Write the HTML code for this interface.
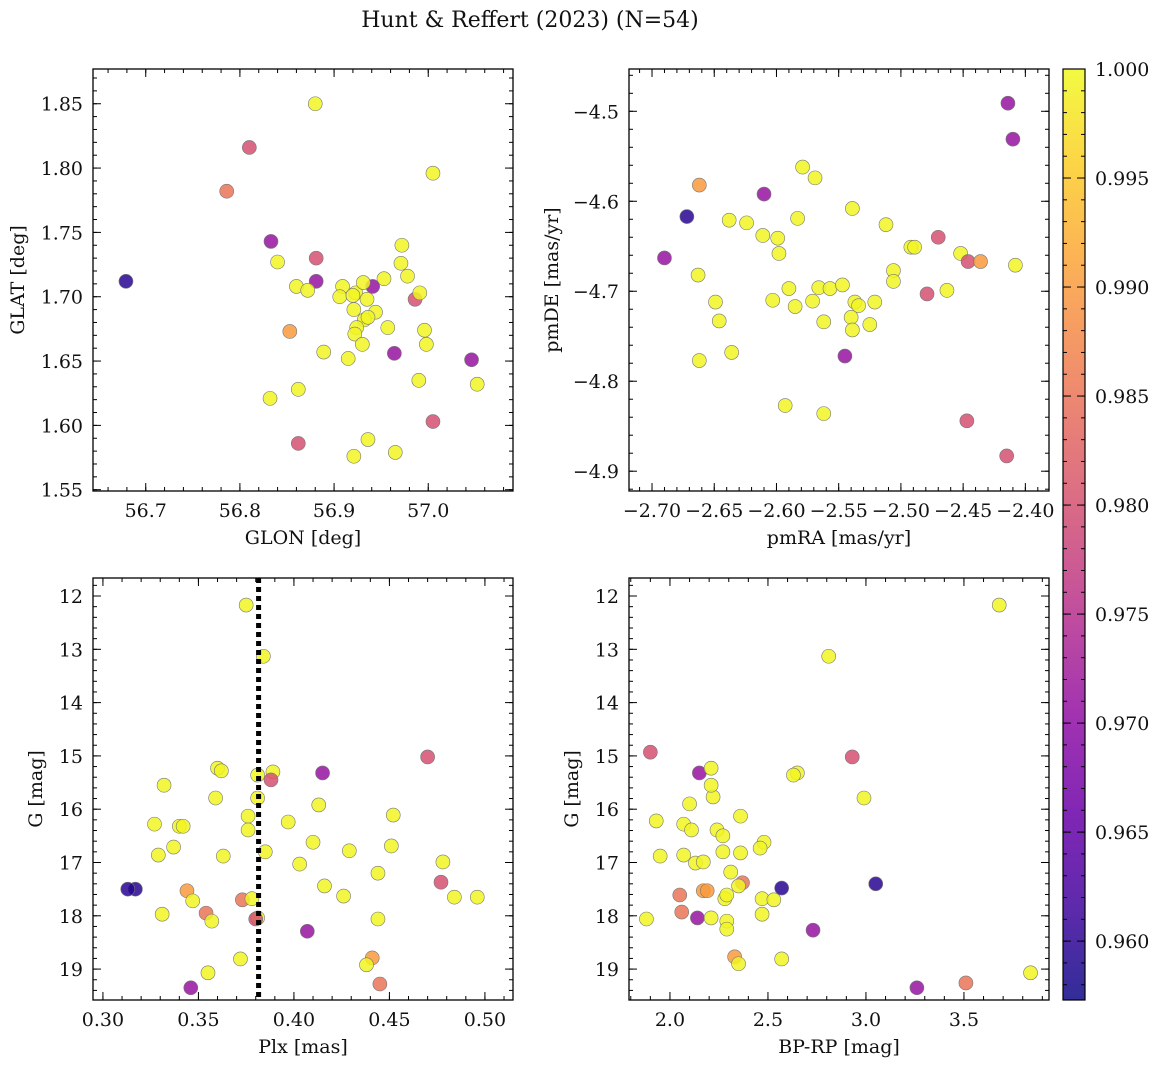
<!DOCTYPE html>
<html><head><meta charset="utf-8">
<style>
body{margin:0;background:#fff;}
svg text{font-family:"DejaVu Serif","Liberation Serif",serif;fill:#111;}
</style></head>
<body>
<svg id="chart" width="1161" height="1068" viewBox="0 0 1161 1068" xmlns="http://www.w3.org/2000/svg">
<text x="530" y="27" font-size="22" text-anchor="middle">Hunt &amp; Reffert (2023) (N=54)</text>
</svg>
<script>
// probability classes
const Y=0.9995, PK=0.980, SA=0.985, OR=0.990, PU=0.971, DB=0.9595;
// Panel 1: GLON / GLAT
const glon=[56.88,56.81,56.786,57.005,56.679,56.833,56.84,56.881,56.881,56.86,56.872,56.909,56.923,56.953,56.972,56.971,56.978,56.941,56.931,56.906,56.92,56.935,56.944,56.921,56.932,56.924,56.922,56.957,56.93,56.915,56.889,56.853,56.964,56.986,56.991,56.996,56.998,57.046,57.052,56.99,56.862,56.832,56.862,56.936,56.921,56.965,57.005,56.936];
const glat=[1.85,1.816,1.782,1.796,1.712,1.743,1.727,1.730,1.712,1.708,1.705,1.708,1.703,1.714,1.740,1.726,1.716,1.708,1.711,1.700,1.701,1.698,1.688,1.690,1.682,1.676,1.671,1.676,1.663,1.652,1.657,1.673,1.656,1.698,1.703,1.674,1.663,1.651,1.632,1.635,1.628,1.621,1.586,1.589,1.576,1.579,1.603,1.684];
const prob1=[Y,PK,SA,Y,DB,PU,Y,PK,PU,Y,Y,Y,Y,Y,Y,Y,Y,PU,Y,Y,Y,Y,Y,Y,Y,Y,Y,Y,Y,Y,Y,OR,PU,PK,Y,Y,Y,PU,Y,Y,Y,Y,PK,Y,Y,Y,PK,Y];
// Panel 2: pmRA / pmDE
const pmra=[-2.414,-2.410,-2.579,-2.569,-2.662,-2.610,-2.672,-2.539,-2.638,-2.624,-2.583,-2.512,-2.611,-2.599,-2.690,-2.470,-2.452,-2.492,-2.489,-2.446,-2.436,-2.408,-2.663,-2.598,-2.506,-2.506,-2.566,-2.557,-2.547,-2.590,-2.463,-2.479,-2.521,-2.537,-2.534,-2.649,-2.603,-2.585,-2.571,-2.540,-2.525,-2.646,-2.562,-2.539,-2.636,-2.662,-2.545,-2.593,-2.562,-2.447,-2.415];
const pmde=[-4.491,-4.531,-4.562,-4.574,-4.582,-4.592,-4.617,-4.608,-4.621,-4.624,-4.619,-4.626,-4.638,-4.641,-4.663,-4.640,-4.658,-4.651,-4.651,-4.667,-4.667,-4.671,-4.682,-4.658,-4.677,-4.689,-4.696,-4.697,-4.693,-4.697,-4.699,-4.703,-4.712,-4.712,-4.716,-4.712,-4.710,-4.717,-4.711,-4.729,-4.737,-4.733,-4.734,-4.743,-4.768,-4.777,-4.772,-4.827,-4.836,-4.844,-4.883];
const prob2=[PU,PU,Y,Y,OR,PU,DB,Y,Y,Y,Y,Y,Y,Y,PU,PK,Y,Y,Y,PK,OR,Y,Y,Y,Y,Y,Y,Y,Y,Y,Y,PK,Y,Y,Y,Y,Y,Y,Y,Y,Y,Y,Y,Y,Y,Y,PU,Y,Y,PK,PK];
// Panel 3: Plx / G
const plx=[0.375,0.384,0.332,0.360,0.362,0.381,0.389,0.415,0.470,0.388,0.359,0.381,0.413,0.327,0.340,0.342,0.376,0.452,0.397,0.376,0.410,0.451,0.337,0.385,0.429,0.329,0.363,0.403,0.478,0.444,0.416,0.477,0.317,0.313,0.344,0.347,0.426,0.484,0.373,0.378,0.354,0.331,0.357,0.381,0.444,0.496,0.407,0.372,0.355,0.441,0.438,0.445,0.346,0.380];
const gmag3=[12.17,13.13,15.55,15.23,15.28,15.36,15.30,15.32,15.02,15.45,15.79,15.79,15.92,16.28,16.32,16.32,16.13,16.11,16.24,16.39,16.62,16.69,16.71,16.80,16.78,16.86,16.88,17.03,16.99,17.20,17.44,17.37,17.50,17.50,17.53,17.72,17.63,17.65,17.70,17.68,17.95,17.97,18.10,18.04,18.06,17.65,18.29,18.81,19.07,18.79,18.92,19.28,19.35,18.06];
const prob3=[Y,Y,Y,Y,Y,Y,Y,PU,PK,PK,Y,Y,Y,Y,Y,Y,Y,Y,Y,Y,Y,Y,Y,Y,Y,Y,Y,Y,Y,Y,Y,PK,DB,DB,OR,Y,Y,Y,SA,Y,SA,Y,Y,Y,Y,Y,PU,Y,Y,OR,Y,SA,PU,PK];
// Panel 4: BP-RP / G
const bprp=[3.68,2.81,1.90,2.93,2.15,2.21,2.22,2.21,2.99,2.10,2.07,2.11,2.07,1.95,1.93,2.24,2.27,2.36,2.48,2.65,2.63,2.46,2.36,2.27,2.13,2.17,2.31,2.37,2.35,2.17,2.05,2.19,1.88,2.06,2.14,2.21,2.29,2.29,2.47,2.53,2.47,2.57,3.05,2.73,2.57,2.33,2.35,3.26,3.51,3.84,2.28,2.29];
const gmag4=[12.17,13.13,14.93,15.02,15.32,15.23,15.77,15.55,15.79,15.90,16.28,16.39,16.86,16.88,16.22,16.39,16.50,16.13,16.62,15.32,15.36,16.73,16.82,16.80,17.01,16.99,17.18,17.38,17.44,17.53,17.61,17.53,18.06,17.93,18.04,18.04,18.10,18.25,17.68,17.70,17.97,17.48,17.40,18.27,18.81,18.77,18.90,19.35,19.26,19.07,17.68,17.61];
const prob4=[Y,Y,PK,PK,PU,Y,Y,Y,Y,Y,Y,Y,Y,Y,Y,Y,Y,Y,Y,Y,Y,Y,Y,Y,Y,Y,Y,SA,Y,OR,SA,OR,Y,SA,PU,Y,Y,Y,Y,Y,Y,DB,DB,PU,Y,OR,Y,PU,SA,Y,Y,Y];
// reference line
const plxRef=[0.3815];
// colorbar
const cbMin=0.9573, cbMax=1.0;
const cbTicks=[0.960,0.965,0.970,0.975,0.980,0.985,0.990,0.995,1.000];

const NS="http://www.w3.org/2000/svg";
const svg=document.getElementById('chart');
function mk(tag,attrs,parent){const e=document.createElementNS(NS,tag);for(const k in attrs)e.setAttribute(k,attrs[k]);(parent||svg).appendChild(e);return e;}
const stops=["#0d0887","#41049d","#6a00a8","#8f0da4","#b12a90","#cc4778","#e16462","#f2844b","#fca636","#fcce25","#f0f921"];
function hex(h){return [1,3,5].map(i=>parseInt(h.substr(i,2),16));}
function plasma(t){t=Math.max(0,Math.min(1,t));const f=t*10,i=Math.min(9,Math.floor(f)),r=f-i;const a=hex(stops[i]),b=hex(stops[i+1]);return 'rgb('+a.map((v,k)=>Math.round(v+(b[k]-v)*r)).join(',')+')';}
function cmap(p){return plasma((p-cbMin)/(cbMax-cbMin));}
const minus=s=>s.replace('-','\u2212');
const FS=19;

const panels=[
 {name:'glon-glat',L:93,R:513,T:69,B:491,xa:56.644,xb:57.090,yt:1.877,yb:1.549,xmaj:0.1,xmin:0.02,ymaj:0.05,ymin:0.01,xd:1,yd:2,xl:'GLON [deg]',yl:'GLAT [deg]',x:glon,y:glat,p:prob1,ylx:17},
 {name:'pmra-pmde',L:629,R:1049,T:69,B:491,xa:-2.7185,xb:-2.381,yt:-4.453,yb:-4.922,xmaj:0.05,xmin:0.01,ymaj:0.1,ymin:0.02,xd:2,yd:1,xl:'pmRA [mas/yr]',yl:'pmDE [mas/yr]',x:pmra,y:pmde,p:prob2,ylx:551},
 {name:'plx-g',L:93,R:513,T:578,B:1000,xa:0.2948,xb:0.5147,yt:11.662,yb:19.58,xmaj:0.05,xmin:0.01,ymaj:1,ymin:0.2,xd:2,yd:0,xl:'Plx [mas]',yl:'G [mag]',x:plx,y:gmag3,p:prob3,vline:true,ylx:35},
 {name:'bprp-g',L:629,R:1049,T:578,B:1000,xa:1.791,xb:3.934,yt:11.662,yb:19.58,xmaj:0.5,xmin:0.1,ymaj:1,ymin:0.2,xd:1,yd:0,xl:'BP-RP [mag]',yl:'G [mag]',x:bprp,y:gmag4,p:prob4,ylx:571}
];
function ticks(a,b,step){const lo=Math.min(a,b),hi=Math.max(a,b),r=[];for(let k=Math.ceil(lo/step-1e-6);k<=Math.floor(hi/step+1e-6);k++)r.push(k*step);return r;}
panels.forEach(P=>{
 const g=mk('g',{});
 
 
 const sx=v=>P.L+(v-P.xa)/(P.xb-P.xa)*(P.R-P.L);
 const sy=v=>P.T+(v-P.yt)/(P.yb-P.yt)*(P.B-P.T);
 const pg=mk('g',{},g);
 
 
 P.x.forEach((xv,i)=>{
  const c=mk('circle',{cx:sx(xv),cy:sy(P.y[i]),r:7,fill:cmap(P.p[i]),'fill-opacity':0.85,stroke:'#777','stroke-width':0.6},pg);
  
  
 });
 if(P.vline){const l=mk('line',{x1:sx(plxRef[0]),x2:sx(plxRef[0]),y1:P.T,y2:P.B,stroke:'#000','stroke-width':5,'stroke-dasharray':'5 4'},g);
  
  }
 const fr=mk('rect',{x:P.L,y:P.T,width:P.R-P.L,height:P.B-P.T,fill:'none',stroke:'#000','stroke-width':1.3},g);
 
 
 const tk=mk('g',{stroke:'#000','stroke-width':1},g);
 ticks(P.xa,P.xb,P.xmin).forEach(v=>{const x=sx(v);mk('line',{x1:x,x2:x,y1:P.B,y2:P.B-4},tk);mk('line',{x1:x,x2:x,y1:P.T,y2:P.T+4},tk);});
 ticks(P.yt,P.yb,P.ymin).forEach(v=>{const y=sy(v);mk('line',{x1:P.L,x2:P.L+4,y1:y,y2:y},tk);mk('line',{x1:P.R,x2:P.R-4,y1:y,y2:y},tk);});
 ticks(P.xa,P.xb,P.xmaj).forEach(v=>{const x=sx(v);mk('line',{x1:x,x2:x,y1:P.B,y2:P.B-8},tk);mk('line',{x1:x,x2:x,y1:P.T,y2:P.T+8},tk);
  const t=mk('text',{x:x,y:P.B+26,'font-size':FS,'text-anchor':'middle'},g);t.textContent=minus(v.toFixed(P.xd));
  
  });
 ticks(P.yt,P.yb,P.ymaj).forEach(v=>{const y=sy(v);mk('line',{x1:P.L,x2:P.L+8,y1:y,y2:y},tk);mk('line',{x1:P.R,x2:P.R-8,y1:y,y2:y},tk);
  const t=mk('text',{x:P.L-10,y:y+7,'font-size':FS,'text-anchor':'end'},g);t.textContent=minus(v.toFixed(P.yd));
  
  });
 const xl=mk('text',{x:(P.L+P.R)/2,y:P.B+53,'font-size':FS,'text-anchor':'middle'},g);xl.textContent=P.xl;
 
 
 const ycx=P.ylx+7;
 const yl=mk('text',{x:ycx,y:(P.T+P.B)/2,'font-size':FS,'text-anchor':'middle',transform:'rotate(-90 '+ycx+' '+(P.T+P.B)/2+')'},g);yl.textContent=P.yl;
 
 
});
// colorbar
const CL=1063,CR=1085,CT=69,CB=1000;
const cb=mk('g',{});


const defs=mk('defs',{},svg);
const lg=mk('linearGradient',{id:'cbg',x1:0,y1:1,x2:0,y2:0},defs);
for(let i=0;i<=20;i++)mk('stop',{offset:i/20,'stop-color':plasma(i/20),'stop-opacity':0.85},lg);
mk('rect',{x:CL,y:CT,width:CR-CL,height:CB-CT,fill:'url(#cbg)',stroke:'#000','stroke-width':1.2},cb);
const cy=v=>CB-(v-cbMin)/(cbMax-cbMin)*(CB-CT);
for(let k=Math.ceil(cbMin*1000);k<=1000;k++){const y=cy(k/1000);mk('line',{x1:CR,x2:CR-4,y1:y,y2:y,stroke:'#000'},cb);mk('line',{x1:CL,x2:CL+4,y1:y,y2:y,stroke:'#000'},cb);}
cbTicks.forEach(v=>{const y=cy(v);mk('line',{x1:CR,x2:CR-8,y1:y,y2:y,stroke:'#000'},cb);mk('line',{x1:CL,x2:CL+8,y1:y,y2:y,stroke:'#000'},cb);
 const t=mk('text',{x:CR+10,y:y+7,'font-size':FS},cb);t.textContent=v.toFixed(3);
 
 });
</script>
</body></html>
